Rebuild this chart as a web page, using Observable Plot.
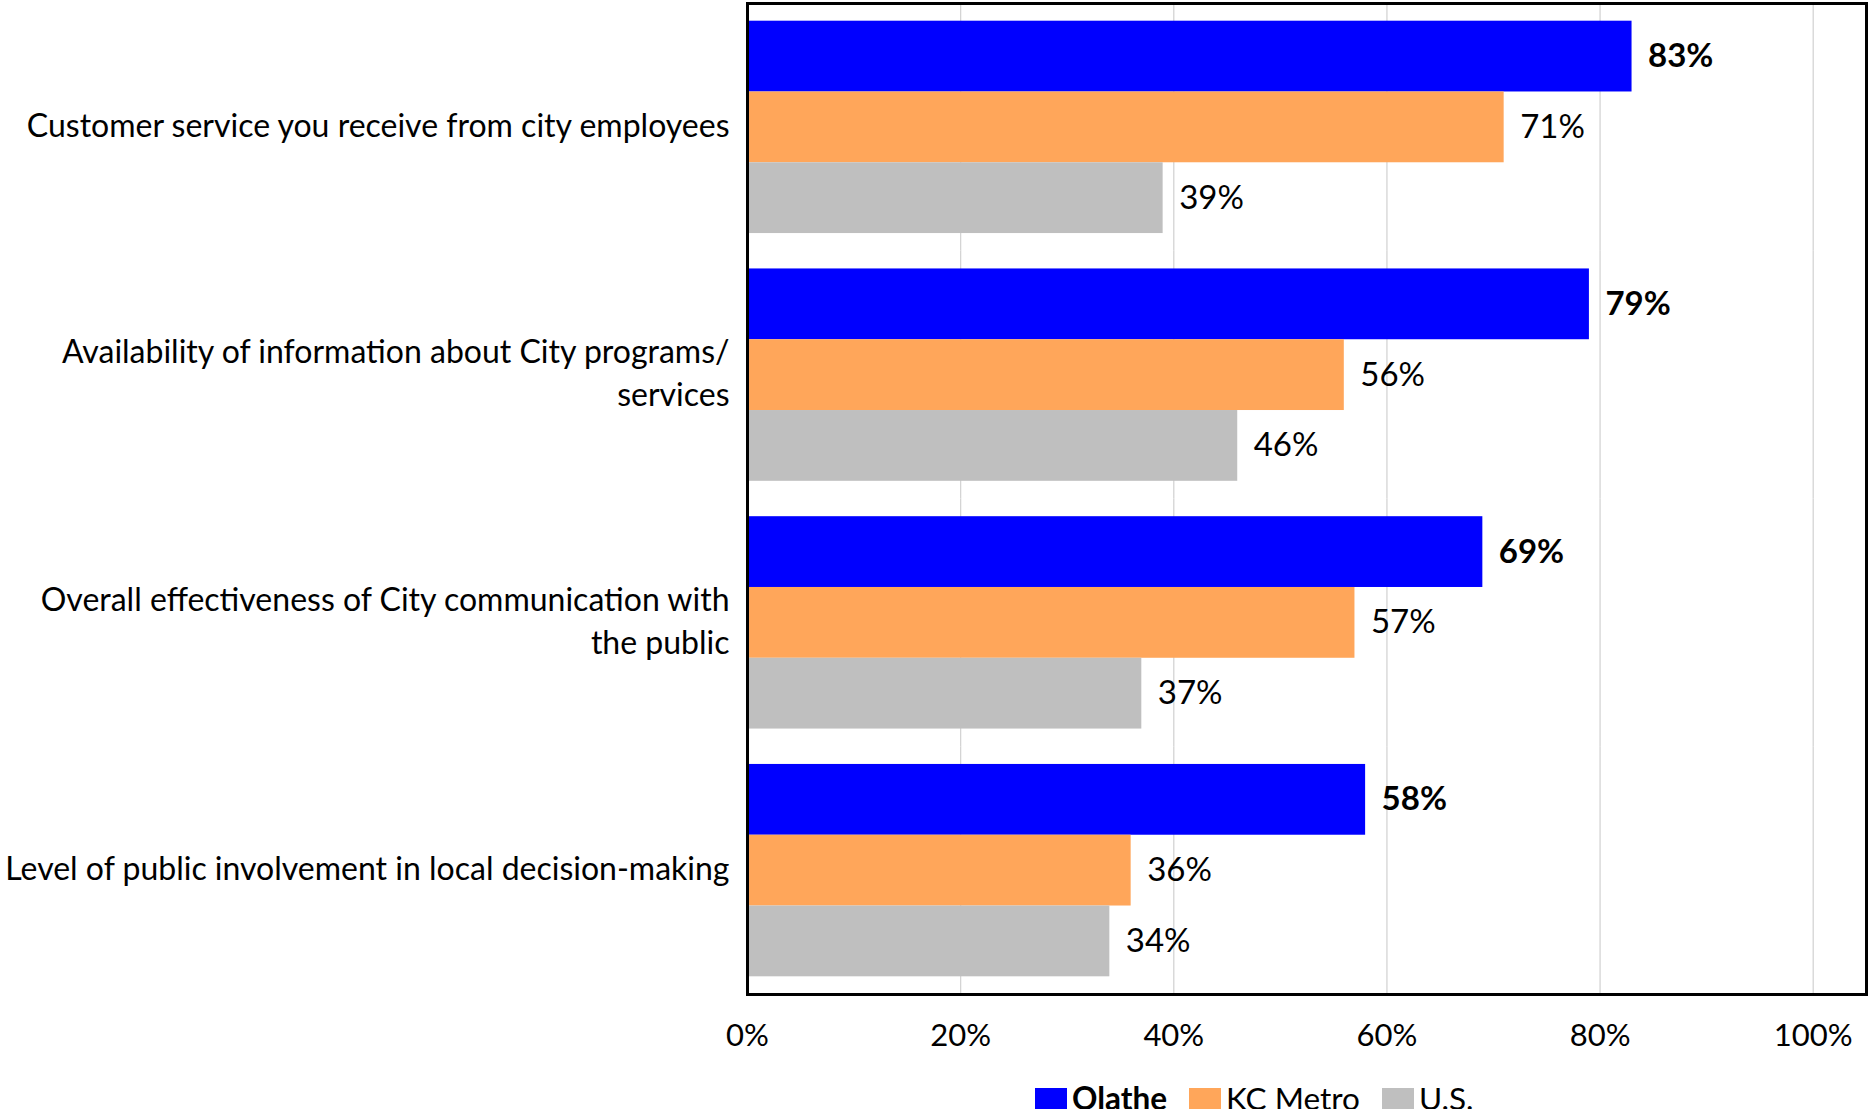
<!DOCTYPE html>
<html>
<head>
<meta charset="utf-8">
<script src="https://cdn.jsdelivr.net/npm/d3@7"></script>
<script src="https://cdn.jsdelivr.net/npm/@observablehq/plot@0.6"></script>
<style>
  html, body { margin: 0; padding: 0; background: #fff; }
  body { width: 1868px; font-family: Lato, "Open Sans", sans-serif; }
  #legend { display: flex; align-items: center; margin-top: 22px; padding-left: 1035px; font-size: 31.5px; color: #000; height: 22px; }
  #legend .sw { width: 32px; height: 21px; display: inline-block; margin-right: 5px; }
  #legend .item { display: flex; align-items: center; margin-right: 22px; }
</style>
</head>
<body>
<div id="chart"></div>
<div id="legend"></div>
<script>
const categories = [
  "Customer service you receive from city employees",
  "Availability of information about City programs/ services",
  "Overall effectiveness of City communication with the public",
  "Level of public involvement in local decision-making"
];
const categoryLabels = [
  "Customer service you receive from city employees",
  "Availability of information about City programs/\nservices",
  "Overall effectiveness of City communication with\nthe public",
  "Level of public involvement in local decision-making"
];
const series = ["Olathe", "KC Metro", "U.S."];
const colors = ["#0000FF", "#FFA65A", "#BFBFBF"];
const olathe = [0.83, 0.79, 0.69, 0.58];
const kcMetro = [0.71, 0.56, 0.57, 0.36];
const us = [0.39, 0.46, 0.37, 0.34];
const xTicks = [0, 0.2, 0.4, 0.6, 0.8, 1.0];

const seriesValues = [olathe, kcMetro, us];
const data = [];
categories.forEach((c, i) => {
  series.forEach((s, j) => data.push({category: c, series: s, value: seriesValues[j][i]}));
});
const labelOf = new Map(categories.map((c, i) => [c, categoryLabels[i]]));
const pct = d3.format(".0%");

const chart = Plot.plot({
  width: 1868,
  height: 1065,
  marginTop: 3,
  marginBottom: 71,
  marginLeft: 747,
  marginRight: 2,
  style: {fontFamily: "Lato, 'Open Sans', sans-serif", fontSize: "31px", color: "#000", background: "#fff"},
  x: {domain: [0, 1.05], axis: null},
  y: {domain: series, paddingInner: 0, paddingOuter: 0.25, round: false, axis: null},
  fy: {domain: categories, padding: 0, round: false, axis: null},
  color: {domain: series, range: colors},
  marks: [
    Plot.gridX(xTicks.filter(t => t > 0), {stroke: "#D4D4D4", strokeOpacity: 1, strokeWidth: 1.3}),
    Plot.barX(data, {x: "value", y: "series", fy: "category", fill: "series"}),
    Plot.frame({stroke: "#000", strokeWidth: 3, facet: "super"}),
    Plot.axisX({ticks: xTicks, tickFormat: pct, tickSize: 0, tickPadding: 29, fontSize: 31, fill: "#000", label: null}),
    Plot.text(categories, {fy: d => d, text: d => labelOf.get(d), frameAnchor: "left", textAnchor: "end", dx: -18, dy: -4, lineHeight: 1.33, fontSize: 32, fill: "#000"}),
    Plot.text(data.filter(d => d.series === "Olathe"), {x: "value", y: "series", fy: "category", text: d => pct(d.value), textAnchor: "start", dx: 16, fontSize: 33, fontWeight: "bold", fill: "#000"}),
    Plot.text(data.filter(d => d.series !== "Olathe"), {x: "value", y: "series", fy: "category", text: d => pct(d.value), textAnchor: "start", dx: 16, fontSize: 33, fill: "#000"})
  ]
});
document.getElementById("chart").appendChild(chart);

const legend = document.getElementById("legend");
series.forEach((s, i) => {
  const item = document.createElement("div");
  item.className = "item";
  const sw = document.createElement("span");
  sw.className = "sw";
  sw.style.background = colors[i];
  const t = document.createElement("span");
  t.textContent = s;
  if (s === "Olathe") t.style.fontWeight = "bold";
  item.appendChild(sw);
  item.appendChild(t);
  legend.appendChild(item);
});
</script>
</body>
</html>
